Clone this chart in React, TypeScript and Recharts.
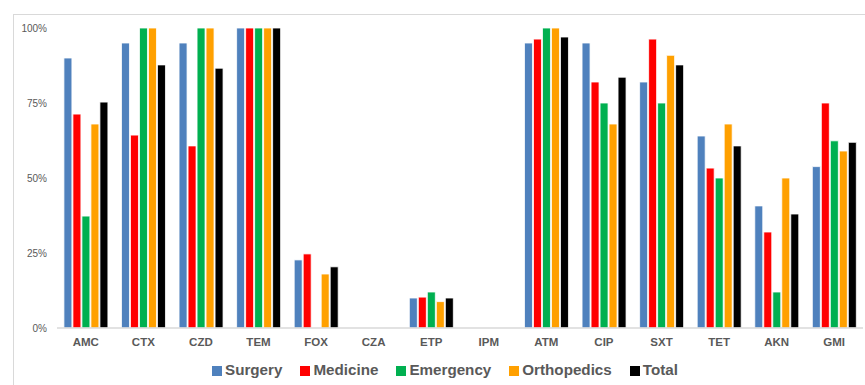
import React from 'react';
import { BarChart, Bar, XAxis, YAxis } from 'recharts';

// antibiotics on the x axis
const drugs = ['AMC', 'CTX', 'CZD', 'TEM', 'FOX', 'CZA', 'ETP', 'IPM', 'ATM', 'CIP', 'SXT', 'TET', 'AKN', 'GMI'];

// percentages per ward
const surgery = [90, 95, 95, 100, 22.7, 0, 10, 0, 95, 95, 82, 64, 40.7, 53.8];
const medicine = [71.3, 64.3, 60.7, 100, 24.7, 0, 10.3, 0, 96.3, 82, 96.3, 53.3, 32, 75];
const emergency = [37.3, 100, 100, 100, 0, 0, 12, 0, 100, 75, 75, 50, 12, 62.4];
const orthopedics = [68, 100, 100, 100, 18, 0, 8.8, 0, 100, 68, 90.9, 68, 50, 59];
const total = [75.3, 87.7, 86.6, 100, 20.4, 0, 10, 0, 97, 83.6, 87.7, 60.7, 38, 61.9];

const yTicks = [0, 25, 50, 75, 100];

const series = [
    { key: 'Surgery', color: '#4F81BD', values: surgery },
    { key: 'Medicine', color: '#FF0000', values: medicine },
    { key: 'Emergency', color: '#00B050', values: emergency },
    { key: 'Orthopedics', color: '#FFA000', values: orthopedics },
    { key: 'Total', color: '#000000', values: total },
];

const data = drugs.map((name, i) => {
    const row: any = { name };
    series.forEach((s) => {
        row[s.key] = s.values[i];
    });
    return row;
});

const font = '"Liberation Sans", Arial, sans-serif';

// legend drawn by hand, below the chart
const LegendBox = () => (
    <div
        style={{
            position: 'absolute',
            left: 212,
            top: 360,
            display: 'flex',
            gap: 18,
            fontFamily: font,
            fontWeight: 'bold',
            fontSize: 15.2,
            lineHeight: '20px',
            color: '#595959',
            whiteSpace: 'nowrap',
        }}
    >
        {series.map((s) => (
            <div key={s.key} style={{ display: 'flex', alignItems: 'center', gap: 3 }}>
                <span style={{ display: 'inline-block', width: 10, height: 10, background: s.color, marginTop: 2 }} />
                <span>{s.key}</span>
            </div>
        ))}
    </div>
);

export default function App() {
    return (
        <div style={{ position: 'absolute', left: 0, top: 0, width: 865, height: 385, overflow: 'hidden', background: '#fff' }}>
            <div style={{ position: 'absolute', left: 13, top: 14, width: 900, height: 400, border: '1px solid #d9d9d9' }} />
            <div style={{ position: 'absolute', left: 0, top: 0 }}>
                <BarChart
                    width={865}
                    height={385}
                    data={data}
                    margin={{ top: 28, right: 2, left: 0, bottom: 27 }}
                    barCategoryGap="12%"
                    barGap={1}
                >
                    <XAxis
                        dataKey="name"
                        axisLine={{ stroke: '#d9d9d9', strokeWidth: 1.5 }}
                        tickLine={false}
                        tickSize={0}
                        tickMargin={10}
                        tick={{ fill: '#595959', fontSize: 11.5, fontWeight: 'bold', fontFamily: font }}
                        interval={0}
                        height={30}
                    />
                    <YAxis
                        width={57}
                        domain={[0, 100]}
                        ticks={yTicks}
                        tickFormatter={(v) => `${v}%`}
                        axisLine={false}
                        tickLine={false}
                        tickSize={0}
                        tickMargin={10}
                        tick={{ fill: '#595959', fontSize: 10, fontFamily: font }}
                    />
                    {series.map((s) => (
                        <Bar
                            key={s.key}
                            dataKey={s.key}
                            fill={s.color}
                            stroke="#ffffff"
                            strokeWidth={0.8}
                            isAnimationActive={false}
                        />
                    ))}
                </BarChart>
            </div>
            <LegendBox />
        </div>
    );
}
